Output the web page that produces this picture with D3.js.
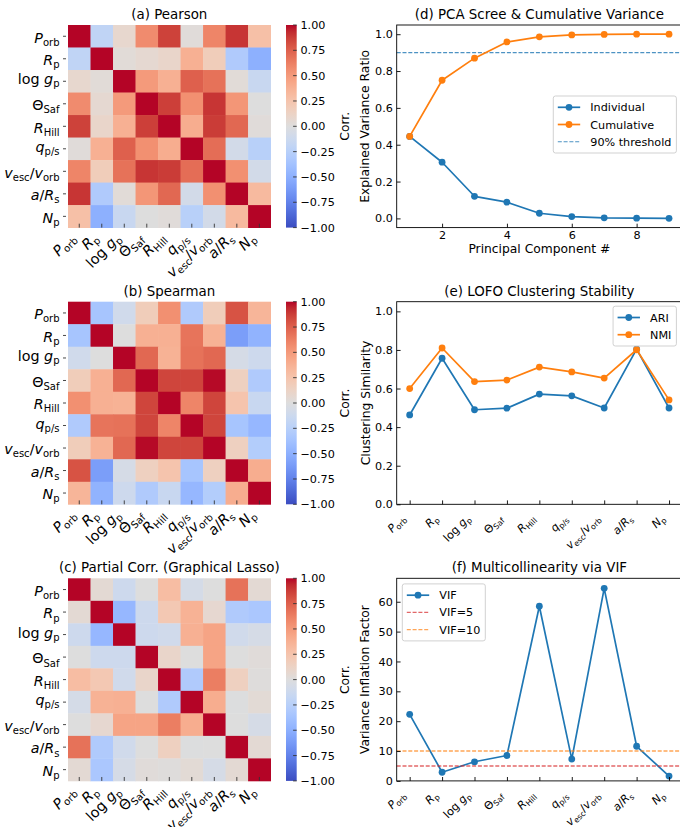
<!DOCTYPE html>
<html>
<head>
<meta charset="utf-8">
<script src="https://cdn.jsdelivr.net/npm/d3@7"></script>
<style>
  body { margin: 0; background: #fff; }
  svg { display: block; font-family: "DejaVu Sans", sans-serif; }
</style>
</head>
<body>
<svg id="fig" width="680" height="827"></svg>
<script>
// ---------- data ----------
// feature labels as mathtext-like segments: i = italic, r = roman, s = subscript
const featureLabels = [
  [["P", "i"], ["orb", "s"]],
  [["R", "i"], ["p", "s"]],
  [["log ", "r"], ["g", "i"], ["p", "s"]],
  [["Θ", "r"], ["Saf", "s"]],
  [["R", "i"], ["Hill", "s"]],
  [["q", "i"], ["p/s", "s"]],
  [["v", "i"], ["esc", "s"], ["/", "r"], ["v", "i"], ["orb", "s"]],
  [["a", "i"], ["/", "r"], ["R", "i"], ["s", "s"]],
  [["N", "i"], ["p", "s"]]
];

const pearsonCorr = [
  [1.00, -0.20, 0.08, 0.57, 0.86, 0.02, 0.60, 0.90, 0.28],
  [-0.20, 1.00, 0.03, 0.06, 0.10, 0.38, 0.18, -0.30, -0.50],
  [0.08, 0.03, 1.00, 0.50, 0.38, 0.75, 0.68, 0.03, -0.15],
  [0.57, 0.06, 0.50, 1.00, 0.87, 0.55, 0.90, 0.52, 0.00],
  [0.86, 0.10, 0.38, 0.87, 1.00, 0.40, 0.88, 0.72, 0.02],
  [0.02, 0.38, 0.75, 0.55, 0.40, 1.00, 0.70, -0.08, -0.25],
  [0.60, 0.18, 0.68, 0.90, 0.88, 0.70, 1.00, 0.55, -0.08],
  [0.90, -0.30, 0.03, 0.52, 0.72, -0.08, 0.55, 1.00, 0.32],
  [0.28, -0.50, -0.15, 0.00, 0.02, -0.25, -0.08, 0.32, 1.00]
];

const spearmanCorr = [
  [1.00, -0.35, -0.10, 0.18, 0.55, -0.30, 0.18, 0.80, 0.35],
  [-0.35, 1.00, 0.00, 0.38, 0.38, 0.67, 0.37, -0.60, -0.48],
  [-0.10, 0.00, 1.00, 0.72, 0.37, 0.68, 0.72, -0.06, -0.12],
  [0.18, 0.38, 0.72, 1.00, 0.85, 0.85, 0.99, 0.15, -0.30],
  [0.55, 0.38, 0.37, 0.85, 1.00, 0.60, 0.85, 0.25, -0.15],
  [-0.30, 0.67, 0.68, 0.85, 0.60, 1.00, 0.85, -0.35, -0.45],
  [0.18, 0.37, 0.72, 0.99, 0.85, 0.85, 1.00, 0.15, -0.28],
  [0.80, -0.60, -0.06, 0.15, 0.25, -0.35, 0.15, 1.00, 0.40],
  [0.35, -0.48, -0.12, -0.30, -0.15, -0.45, -0.28, 0.40, 1.00]
];

const partialCorr = [
  [1.00, 0.05, -0.12, 0.00, 0.30, -0.07, 0.00, 0.68, 0.05],
  [0.05, 1.00, -0.45, -0.12, 0.22, 0.37, 0.07, -0.30, -0.33],
  [-0.12, -0.45, 1.00, -0.12, -0.10, 0.38, 0.45, -0.10, -0.06],
  [0.00, -0.12, -0.12, 1.00, 0.10, 0.00, 0.45, 0.00, 0.02],
  [0.30, 0.22, -0.10, 0.10, 1.00, -0.30, 0.63, 0.15, 0.01],
  [-0.07, 0.37, 0.38, 0.00, -0.30, 1.00, 0.40, -0.01, 0.04],
  [0.00, 0.07, 0.45, 0.45, 0.63, 0.40, 1.00, 0.00, -0.06],
  [0.68, -0.30, -0.10, 0.00, 0.15, -0.01, 0.00, 1.00, 0.05],
  [0.05, -0.33, -0.06, 0.02, 0.01, 0.04, -0.06, 0.05, 1.00]
];

const colorbarTicks = [1, 0.75, 0.5, 0.25, 0, -0.25, -0.5, -0.75, -1];

const pcNumber = [1, 2, 3, 4, 5, 6, 7, 8, 9];
const pcIndividual = [0.445, 0.305, 0.120, 0.088, 0.028, 0.010, 0.003, 0.001, 0.0002];
const pcCumulative = [0.445, 0.750, 0.870, 0.958, 0.986, 0.996, 0.999, 1.000, 1.000];
const pcXTicks = [2, 4, 6, 8];
const varianceThreshold = 0.9;

const lofoARI = [0.463, 0.757, 0.490, 0.498, 0.571, 0.562, 0.499, 0.804, 0.499];
const lofoNMI = [0.600, 0.810, 0.636, 0.644, 0.711, 0.686, 0.654, 0.801, 0.541];

const vifValues = [22.3, 2.9, 6.4, 8.5, 58.5, 7.3, 64.5, 11.6, 1.6];
const vifThresholds = [5, 10];

const unitTicks = [0, 0.2, 0.4, 0.6, 0.8, 1.0];
const vifTicks = [0, 10, 20, 30, 40, 50, 60];

// ---------- styling ----------
const BLUE = "#1f77b4", ORANGE = "#ff7f0e", RED = "#d62728";
const FS_TITLE = 13.4, FS_LABEL = 12.3, FS_TICK = 11.2, FS_HEAT = 14.3;
const TICK_LEN = 3.9;

// coolwarm colormap (Moreland diverging table)
const coolwarmTable = [
  [59,76,192],[68,90,204],[77,104,215],[87,117,225],[98,130,234],[108,142,241],
  [119,154,247],[130,165,251],[141,176,254],[152,185,255],[163,194,255],[174,201,253],
  [184,208,249],[194,213,244],[204,217,238],[213,219,230],[221,221,221],[229,216,209],
  [236,211,197],[241,204,185],[245,196,173],[247,187,160],[247,177,148],[247,166,135],
  [244,154,123],[241,141,111],[236,127,99],[229,112,88],[222,96,77],[213,80,66],
  [203,62,56],[192,40,47],[180,4,38]
];
const coolwarm = d3.scaleLinear()
  .domain(coolwarmTable.map((_, i) => -1 + 2 * i / (coolwarmTable.length - 1)))
  .range(coolwarmTable.map(c => d3.rgb(c[0], c[1], c[2]).toString()))
  .interpolate(d3.interpolateRgb)
  .clamp(true);

const svg = d3.select("#fig");
svg.append("rect").attr("width", 680).attr("height", 827).attr("fill", "#fff");

const defs = svg.append("defs");
const grad = defs.append("linearGradient").attr("id", "cw")
  .attr("x1", 0).attr("y1", 1).attr("x2", 0).attr("y2", 0);
coolwarmTable.forEach((c, i) => {
  grad.append("stop")
    .attr("offset", i / (coolwarmTable.length - 1))
    .attr("stop-color", d3.rgb(c[0], c[1], c[2]).toString());
});

// writes label segments into a <text> as tspans (italic / subscript)
function mathText(text, segs, fs) {
  const shift = fs * 0.22;
  let low = false;
  segs.forEach(([t, kind]) => {
    const ts = text.append("tspan").text(t).attr("xml:space", "preserve");
    if (kind === "s") {
      ts.attr("font-size", fs * 0.7).attr("font-style", "normal");
      if (!low) { ts.attr("dy", shift); low = true; }
    } else {
      ts.attr("font-size", fs).attr("font-style", kind === "i" ? "italic" : "normal");
      if (low) { ts.attr("dy", -shift); low = false; }
    }
  });
  return text;
}
const hasDescender = segs => segs.some(([t, k]) => k !== "s" && /[gpqyj]/.test(t));

// ---------- layout ----------
const rowTop = [25, 301.7, 578.3];
const rowH = 202.6;
const heatX = 68;
const panelLeft = 396.7, panelRight = 682;

// ---------- heatmaps ----------
function heatmap(row, title, mat) {
  const top = rowTop[row];
  const band = d3.scaleBand().domain(d3.range(featureLabels.length)).range([0, rowH]);
  const bw = band.bandwidth();
  const g = svg.append("g").attr("transform", `translate(${heatX},${top})`);

  g.selectAll("g.hrow").data(mat).join("g").attr("class", "hrow")
    .attr("transform", (d, r) => `translate(0,${band(r)})`)
    .selectAll("rect").data(d => d.map((v, c) => ({ v, c }))).join("rect")
    .attr("x", d => band(d.c)).attr("y", 0)
    .attr("width", bw + 0.4).attr("height", bw + 0.4)
    .attr("fill", d => coolwarm(d.v));

  // row ticks + labels
  featureLabels.forEach((segs, r) => {
    const cy = band(r) + bw / 2;
    g.append("line").attr("x1", -5).attr("x2", -2).attr("y1", cy).attr("y2", cy)
      .attr("stroke", "#333").attr("stroke-width", 0.9);
    const t = g.append("text").attr("x", -8.5).attr("y", cy + (hasDescender(segs) ? 0.21 : 0.44) * FS_HEAT)
      .attr("text-anchor", "end").attr("fill", "#000");
    mathText(t, segs, FS_HEAT);
  });

  // column ticks + rotated labels
  featureLabels.forEach((segs, c) => {
    const cx = band(c) + bw / 2;
    g.append("line").attr("x1", cx).attr("x2", cx).attr("y1", rowH - TICK_LEN).attr("y2", rowH)
      .attr("stroke", "#333").attr("stroke-width", 0.9);
    const ax = cx - 2.7, ay = rowH + 11.5;
    const t = g.append("text").attr("x", ax).attr("y", ay)
      .attr("text-anchor", "end").attr("fill", "#000")
      .attr("transform", `rotate(-45,${ax},${ay})`);
    mathText(t, segs, FS_HEAT);
  });

  // title
  g.append("text").attr("x", rowH / 2).attr("y", -6).attr("text-anchor", "middle")
    .attr("font-size", FS_TITLE).text(title);

  // colorbar
  const cbX = 286 - heatX, cbW = 10.7;
  const cbY = d3.scaleLinear().domain([-1, 1]).range([rowH, 0]);
  g.append("rect").attr("x", cbX).attr("y", 0).attr("width", cbW).attr("height", rowH)
    .attr("fill", "url(#cw)");
  const fmt = d3.format(".2f");
  colorbarTicks.forEach(v => {
    const y = cbY(v);
    g.append("line").attr("x1", cbX + cbW - 3.6).attr("x2", cbX + cbW).attr("y1", y).attr("y2", y)
      .attr("stroke", "#333").attr("stroke-width", 0.9);
    g.append("text").attr("x", cbX + cbW + 3.8).attr("y", y + 0.36 * FS_TICK)
      .attr("font-size", FS_TICK).text(fmt(v));
  });
  const lx = 349.5 - heatX, ly = rowH / 2;
  g.append("text").attr("x", lx).attr("y", ly).attr("text-anchor", "middle")
    .attr("font-size", FS_LABEL).attr("transform", `rotate(-90,${lx},${ly})`).text("Corr.");
}

heatmap(0, "(a) Pearson", pearsonCorr);
heatmap(1, "(b) Spearman", spearmanCorr);
heatmap(2, "(c) Partial Corr. (Graphical Lasso)", partialCorr);

// ---------- line panels ----------
function panelFrame(row, title, ylabel) {
  const top = rowTop[row], bottom = top + rowH;
  const g = svg.append("g");
  g.append("text").attr("x", (panelLeft + panelRight) / 2).attr("y", top - 6)
    .attr("text-anchor", "middle").attr("font-size", FS_TITLE).text(title);
  const lx = 369.5, ly = (top + bottom) / 2;
  g.append("text").attr("x", lx).attr("y", ly).attr("text-anchor", "middle")
    .attr("font-size", FS_LABEL).attr("transform", `rotate(-90,${lx},${ly})`).text(ylabel);
  return { g, top, bottom };
}

function yAxis(g, y, ticks, fmt) {
  const ax = g.append("g").attr("transform", `translate(${panelLeft},0)`)
    .call(d3.axisLeft(y).tickValues(ticks).tickFormat(fmt)
      .tickSize(-TICK_LEN).tickSizeOuter(0).tickPadding(TICK_LEN));
  ax.select(".domain").remove();
  ax.attr("font-family", null).attr("font-size", FS_TICK);
  ax.selectAll("line").attr("stroke", "#000").attr("stroke-width", 0.9);
  ax.selectAll("text").attr("fill", "#000");
}

function xAxisTicks(g, x, ticks, bottom, fmt) {
  const ax = g.append("g").attr("transform", `translate(0,${bottom})`)
    .call(d3.axisBottom(x).tickValues(ticks).tickFormat(fmt || "")
      .tickSize(-TICK_LEN).tickSizeOuter(0).tickPadding(TICK_LEN));
  ax.select(".domain").remove();
  ax.attr("font-family", null).attr("font-size", FS_TICK);
  ax.selectAll("line").attr("stroke", "#000").attr("stroke-width", 0.9);
  ax.selectAll("text").attr("fill", "#000");
}

function spines(g, top, bottom) {
  g.append("rect").attr("x", panelLeft).attr("y", top)
    .attr("width", panelRight - panelLeft).attr("height", bottom - top)
    .attr("fill", "none").attr("stroke", "#000").attr("stroke-width", 0.9);
}

function featureXLabels(g, x, bottom) {
  featureLabels.forEach((segs, i) => {
    const ax = x(i) - 3.4, ay = bottom + 15;
    const t = g.append("text").attr("x", ax).attr("y", ay)
      .attr("text-anchor", "end").attr("fill", "#000")
      .attr("transform", `rotate(-45,${ax},${ay})`);
    mathText(t, segs, FS_TICK);
  });
}

function series(g, xs, ys, x, y, color) {
  const pts = xs.map((xv, i) => [x(xv), y(ys[i])]);
  g.append("path").attr("d", d3.line()(pts)).attr("fill", "none")
    .attr("stroke", color).attr("stroke-width", 1.7).attr("stroke-linejoin", "round");
  g.selectAll(null).data(pts).join("circle")
    .attr("cx", d => d[0]).attr("cy", d => d[1]).attr("r", 3.4).attr("fill", color);
}

function hline(g, y, v, color, width, opacity) {
  g.append("line").attr("x1", panelLeft).attr("x2", panelRight)
    .attr("y1", y(v)).attr("y2", y(v))
    .attr("stroke", color).attr("stroke-width", width)
    .attr("stroke-dasharray", "4,1.8").attr("stroke-opacity", opacity);
}

function legend(g, anchorX, alignRight, top, items) {
  const lg = g.append("g");
  const box = lg.append("rect");
  const textX = 37;
  let maxW = 0;
  items.forEach((it, i) => {
    const cy = top + 11.3 + i * 17.2;
    lg.append("line").attr("class", "h" + i).attr("y1", cy).attr("y2", cy)
      .attr("stroke", it.color).attr("stroke-width", it.dashed ? it.width : 1.7)
      .attr("stroke-dasharray", it.dashed ? "4,1.8" : null)
      .attr("stroke-opacity", it.dashed ? it.opacity : 1);
    if (!it.dashed) lg.append("circle").attr("class", "m" + i).attr("cy", cy).attr("r", 3.4).attr("fill", it.color);
    const t = lg.append("text").attr("class", "t" + i).attr("y", cy + 0.36 * FS_TICK)
      .attr("font-size", FS_TICK).text(it.label);
    maxW = Math.max(maxW, t.node().getComputedTextLength());
  });
  const w = textX + maxW + 5;
  const x0 = alignRight ? anchorX - w : anchorX;
  const h = 22.6 + (items.length - 1) * 17.2;
  box.attr("x", x0).attr("y", top).attr("width", w).attr("height", h)
    .attr("rx", 2.2).attr("fill", "#fff").attr("fill-opacity", 0.8)
    .attr("stroke", "#cccccc").attr("stroke-width", 0.9);
  items.forEach((it, i) => {
    lg.select(".h" + i).attr("x1", x0 + 4.5).attr("x2", x0 + 26.9);
    lg.select(".m" + i).attr("cx", x0 + 15.7);
    lg.select(".t" + i).attr("x", x0 + textX);
  });
}

// (d) PCA scree
{
  const { g, top, bottom } = panelFrame(0, "(d) PCA Scree & Cumulative Variance", "Explained Variance Ratio");
  const x = d3.scaleLinear().domain([0.6, 9.4]).range([panelLeft, panelRight]);
  const y = d3.scaleLinear().domain([-0.05, 1.05]).range([bottom, top]);
  hline(g, y, varianceThreshold, BLUE, 1.1, 0.8);
  series(g, pcNumber, pcIndividual, x, y, BLUE);
  series(g, pcNumber, pcCumulative, x, y, ORANGE);
  yAxis(g, y, unitTicks, d3.format(".1f"));
  xAxisTicks(g, x, pcXTicks, bottom, d3.format("d"));
  spines(g, top, bottom);
  g.append("text").attr("x", (panelLeft + panelRight) / 2).attr("y", bottom + 25.8)
    .attr("text-anchor", "middle").attr("font-size", FS_LABEL).text("Principal Component #");
  legend(g, panelRight - 5.6, true, 96, [
    { label: "Individual", color: BLUE },
    { label: "Cumulative", color: ORANGE },
    { label: "90% threshold", color: BLUE, dashed: true, width: 1.1, opacity: 0.8 }
  ]);
}

// (e) LOFO clustering stability
{
  const { g, top, bottom } = panelFrame(1, "(e) LOFO Clustering Stability", "Clustering Similarity");
  const idx = d3.range(featureLabels.length);
  const x = d3.scaleLinear().domain([-0.4, 8.4]).range([panelLeft, panelRight]);
  const y = d3.scaleLinear().domain([0, 1.05]).range([bottom, top]);
  series(g, idx, lofoARI, x, y, BLUE);
  series(g, idx, lofoNMI, x, y, ORANGE);
  yAxis(g, y, unitTicks, d3.format(".1f"));
  xAxisTicks(g, x, idx, bottom);
  featureXLabels(g, x, bottom);
  spines(g, top, bottom);
  legend(g, panelRight - 5.6, true, top + 4.5, [
    { label: "ARI", color: BLUE },
    { label: "NMI", color: ORANGE }
  ]);
}

// (f) VIF
{
  const { g, top, bottom } = panelFrame(2, "(f) Multicollinearity via VIF", "Variance Inflation Factor");
  const idx = d3.range(featureLabels.length);
  const x = d3.scaleLinear().domain([-0.4, 8.4]).range([panelLeft, panelRight]);
  const y = d3.scaleLinear().domain([0, 67.85]).range([bottom, top]);
  series(g, idx, vifValues, x, y, BLUE);
  hline(g, y, vifThresholds[0], RED, 1.4, 0.7);
  hline(g, y, vifThresholds[1], ORANGE, 1.4, 0.7);
  yAxis(g, y, vifTicks, d3.format("d"));
  xAxisTicks(g, x, idx, bottom);
  featureXLabels(g, x, bottom);
  spines(g, top, bottom);
  legend(g, panelLeft + 5.6, false, top + 5.6, [
    { label: "VIF", color: BLUE },
    { label: "VIF=5", color: RED, dashed: true, width: 1.4, opacity: 0.7 },
    { label: "VIF=10", color: ORANGE, dashed: true, width: 1.4, opacity: 0.7 }
  ]);
}
</script>
</body>
</html>
